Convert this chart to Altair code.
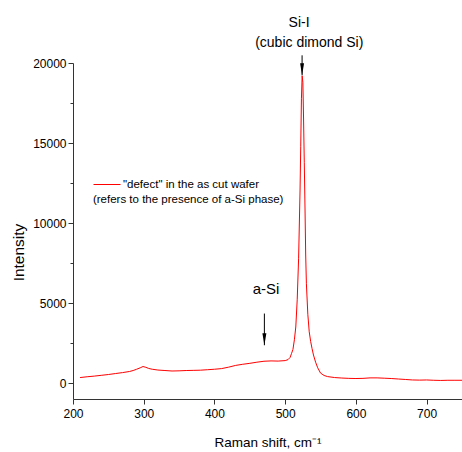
import altair as alt
import pandas as pd

# Raman spectrum
shift = [210, 220, 230, 240, 250, 260, 270, 280, 285, 290, 295, 299, 303, 307, 312,
         320, 330, 340, 350, 360, 370, 380, 390, 400, 410, 420, 430, 440, 450,
         460, 470, 480, 490, 500, 504, 507, 509, 511, 513, 515, 517, 519, 521,
         522, 523, 524, 525, 526, 527, 528, 529, 530, 532, 534, 536, 538, 540,
         543, 546, 550, 555, 560, 570, 580, 590, 600, 610, 620, 630, 640, 650,
         660, 670, 680, 690, 700, 710, 720, 730, 740, 750]
intensity = [340, 390, 430, 480, 530, 590, 650, 720, 780, 860, 950, 1030, 980, 910, 860,
             810, 780, 750, 760, 780, 790, 800, 830, 860, 900, 990, 1100, 1170, 1230,
             1300, 1360, 1380, 1370, 1400, 1460, 1600, 1850, 2100, 2700, 3500, 5200, 7800, 12000,
             14800, 17800, 19200, 18800, 16500, 13800, 11000, 8000, 6200, 4300, 3200, 2600, 2150, 1750,
             1300, 950, 620, 470, 400, 340, 310, 290, 280, 290, 320, 320, 300, 280,
             250, 220, 190, 180, 190, 170, 160, 170, 170, 170]
series_name = '"defect" in the as cut wafer'

x_ticks = list(range(200, 751, 50))
y_ticks = list(range(0, 20001, 2500))

arrow_x = [523.9, 470.6]
arrow_top = [20480, 4340]
arrow_tip = [19230, 2360]

label_text = ["Si-I", "(cubic dimond Si)", "a-Si"]
label_x = [519.6, 534.0, 473.0]
label_y = [22500, 21260, 5860]
label_size = [14, 14, 15]

note_text = ["(refers to the presence of a-Si phase)"]
note_x = [228.2]
note_y = [11420]

FONT = "Liberation Sans"

spec_df = pd.DataFrame({"shift": shift, "intensity": intensity, "series": series_name})
arrow_df = pd.DataFrame({"x": arrow_x, "top": arrow_top, "tip": arrow_tip})
label_df = pd.DataFrame({"x": label_x, "y": label_y, "text": label_text, "size": label_size})
note_df = pd.DataFrame({"x": note_x, "y": note_y, "text": note_text})

xscale = alt.Scale(domain=[200, 750], nice=False, zero=False)
yscale = alt.Scale(domain=[-1000, 20000], nice=False, zero=False)

xaxis = alt.Axis(
    values=x_ticks, title="Raman shift, cm⁻¹", grid=False,
    labelExpr="datum.value % 100 === 0 ? datum.label : ''",
    tickSize={"condition": {"test": "datum.value % 100 === 0", "value": 5}, "value": 3},
    labelFlush=False, labelOverlap=False, labelPadding=4,
    titleFontSize=13.5, titleFontWeight="normal", titleY=47, titleBaseline="alphabetic",
)
yaxis = alt.Axis(
    values=y_ticks, title="Intensity", grid=False, format="d",
    labelExpr="datum.value % 5000 === 0 ? datum.label : ''",
    tickSize={"condition": {"test": "datum.value % 5000 === 0", "value": 5}, "value": 3},
    labelOverlap=False, labelPadding=2,
    titleFontSize=15.5, titleFontWeight="normal", titleX=-47, titleY=189,
)

line = alt.Chart(spec_df).mark_line(strokeWidth=1).encode(
    x=alt.X("shift:Q", scale=xscale, axis=xaxis),
    y=alt.Y("intensity:Q", scale=yscale, axis=yaxis),
    color=alt.Color(
        "series:N",
        scale=alt.Scale(domain=[series_name], range=["#ff0000"]),
        legend=alt.Legend(
            orient="none", legendX=20, legendY=107.5, title=None,
            symbolType="stroke", symbolSize=729, symbolStrokeWidth=1,
            labelFontSize=11.5, labelOffset=2, labelFont=FONT, labelColor="#000000",
            padding=0,
        ),
    ),
)

shaft = alt.Chart(arrow_df).mark_rule(color="black", strokeWidth=1).encode(
    x="x:Q", y="top:Q", y2="tip:Q"
)
head = alt.Chart(arrow_df).mark_point(
    shape="M-0.33,-1L0.33,-1L0,1Z", filled=True, color="black", opacity=1,
    size=144, yOffset=-6,
).encode(x="x:Q", y="tip:Q")

labels = alt.Chart(label_df).mark_text(font=FONT, color="#000000", baseline="middle").encode(
    x="x:Q", y="y:Q", text="text:N", size=alt.Size("size:Q", scale=None)
)
note = alt.Chart(note_df).mark_text(
    font=FONT, color="#000000", baseline="middle", align="left", fontSize=11.5
).encode(x="x:Q", y="y:Q", text="text:N")

chart = alt.layer(line, shaft, head, labels, note).properties(
    width=389, height=336,
    autosize=alt.AutoSizeParams(type="none"),
    padding={"left": 73, "top": 63, "right": 0, "bottom": 53},
    background="white",
).configure_view(strokeWidth=0).configure_axis(
    domainColor="#333333", tickColor="#333333", labelColor="#000000", titleColor="#000000",
    labelFont=FONT, titleFont=FONT, labelFontSize=12, domainWidth=1, tickWidth=1,
)

chart.save("out.html", embed_options={"renderer": "svg", "actions": False})
